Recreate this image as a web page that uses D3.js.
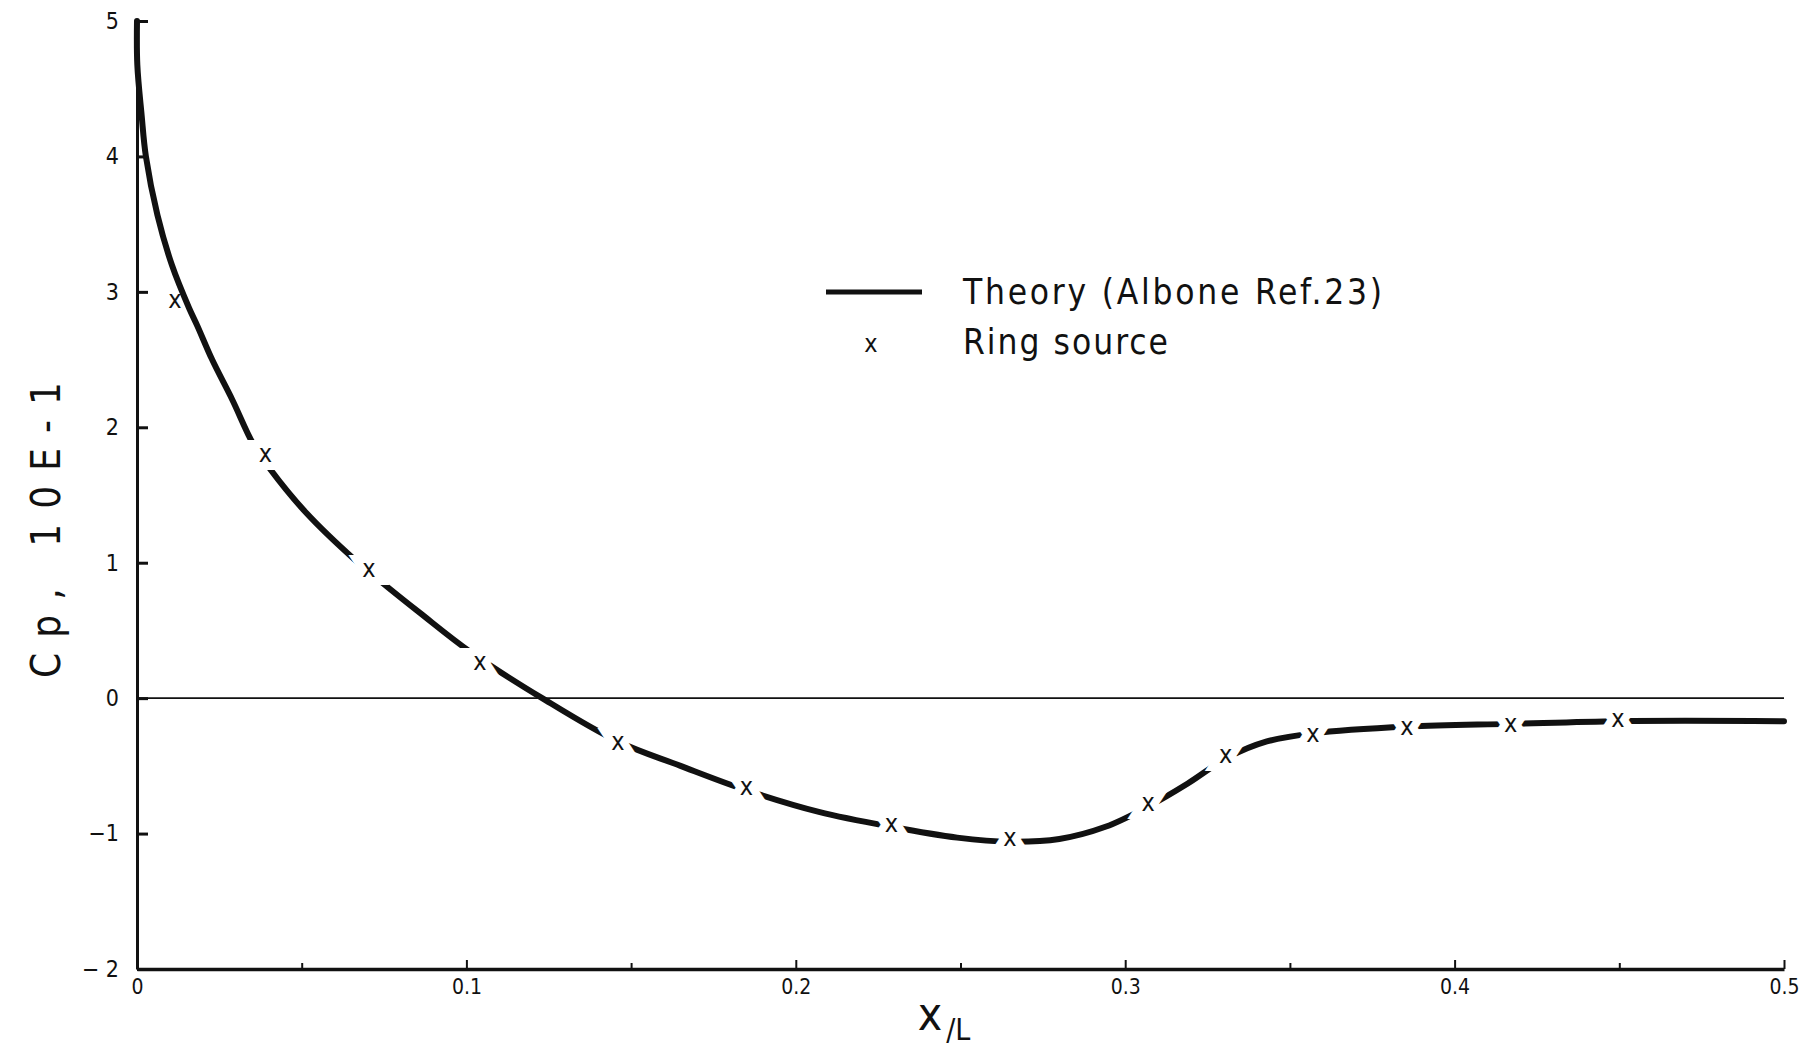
<!DOCTYPE html>
<html>
<head>
<meta charset="utf-8">
<script src="https://cdn.jsdelivr.net/npm/d3@7"></script>
<style>
body { margin:0; background:#fff; }
svg { display:block; }
text { font-family:"DejaVu Sans Condensed","DejaVu Sans",sans-serif; fill:#111; }
</style>
</head>
<body>
<div class="container"></div>
<script>
const wd = 1808
const ht = 1053

// theory curve (Albone), x/L vs Cp (10E-1)
const theoryX = [0, 0.0001, 0.0014, 0.0027, 0.0062, 0.0106, 0.0158, 0.0183, 0.0228, 0.029, 0.0352, 0.0404, 0.0515, 0.0662, 0.0738, 0.0859, 0.1011, 0.123, 0.146, 0.165, 0.185, 0.207, 0.229, 0.249, 0.265, 0.280, 0.294, 0.307, 0.319, 0.331, 0.343, 0.357, 0.386, 0.417, 0.450, 0.5]
const theoryY = [5.0, 4.675, 4.306, 4.0, 3.567, 3.198, 2.881, 2.75, 2.5, 2.2, 1.88, 1.692, 1.365, 1.02, 0.865, 0.629, 0.343, 0.0, -0.32, -0.50, -0.68, -0.84, -0.95, -1.03, -1.06, -1.04, -0.95, -0.80, -0.63, -0.44, -0.32, -0.26, -0.21, -0.19, -0.17, -0.17]

// ring source points
const ringX = [0.0115, 0.039, 0.0704, 0.1041, 0.146, 0.185, 0.229, 0.265, 0.307, 0.3305, 0.357, 0.3855, 0.417, 0.4496]
const ringY = [2.93, 1.795, 0.946, 0.26, -0.33, -0.66, -0.94, -1.04, -0.78, -0.43, -0.27, -0.22, -0.20, -0.16]

const xTicks = [0, 0.1, 0.2, 0.3, 0.4, 0.5]
const xTickLabels = ["0", "0.1", "0.2", "0.3", "0.4", "0.5"]
const xMinorTicks = [0.05, 0.15, 0.25, 0.35, 0.45]
const yTicks = [-2, -1, 0, 1, 2, 3, 4, 5]
const yTickLabels = ["\u2212 2", "\u22121", "0", "1", "2", "3", "4", "5"]

const svgC = d3.select(".container")
.append("svg")
.attr("width", wd)
.attr("height", ht)

const xScale = d3.scaleLinear().domain([0, 0.5]).range([137, 1784])
const yScale = d3.scaleLinear().domain([-2, 5]).range([969, 21])

// zero line
svgC.append("line")
.attr("x1", xScale(0)).attr("x2", xScale(0.5))
.attr("y1", yScale(0)).attr("y2", yScale(0))
.style("stroke", "#111").style("stroke-width", 1.6)

// theory curve
const pts = theoryX.map((x, i) => ({x: x, y: theoryY[i]}))
const lineFunc = d3.line()
.x((d)=> xScale(d.x))
.y((d)=> yScale(d.y))
.curve(d3.curveCatmullRom.alpha(0.5))

svgC.append("path")
.attr("d", lineFunc(pts))
.attr("fill", "none")
.style("stroke", "#111")
.style("stroke-width", 6)
.style("stroke-linecap", "round")

// ring source markers, white halo breaks the curve (first one sits beside it)
svgC.append("g").selectAll("text")
.data(ringX.map((x, i) => ({x: x, y: ringY[i], i: i})))
.join("text")
.attr("x", d => xScale(d.x))
.attr("y", d => yScale(d.y) + 7)
.attr("text-anchor", "middle")
.style("font-size", "25px")
.style("stroke", "#fff")
.style("stroke-width", d => d.i == 0 ? 0 : 16)
.style("paint-order", "stroke")
.text("x")

// y axis
const yAxis = d3.axisLeft(yScale)
.tickValues(yTicks)
.tickFormat((d, i) => yTickLabels[i])
.tickSizeInner(-11)
.tickSizeOuter(0)
.tickPadding(18)

const yG = svgC.append("g")
.attr("transform", "translate(" + xScale(0) + ",0)")
.call(yAxis)
yG.select(".domain").style("stroke-width", 3).style("stroke", "#111")
yG.selectAll(".tick line").style("stroke-width", 3).style("stroke", "#111")
yG.selectAll(".tick text").style("font-size", "23px").style("font-family", "DejaVu Sans Condensed, DejaVu Sans").attr("fill", "#111")

// x axis
const xAxis = d3.axisBottom(xScale)
.tickValues(xTicks)
.tickFormat((d, i) => xTickLabels[i])
.tickSizeInner(-9)
.tickSizeOuter(0)
.tickPadding(10)

const xG = svgC.append("g")
.attr("transform", "translate(0," + yScale(-2) + ")")
.call(xAxis)
xG.select(".domain").style("stroke-width", 3.5).style("stroke", "#111")
xG.selectAll(".tick line").style("stroke-width", 2).style("stroke", "#111")
xG.selectAll(".tick text").style("font-size", "21px").style("font-family", "DejaVu Sans Condensed, DejaVu Sans").attr("fill", "#111")

const xMinor = d3.axisBottom(xScale)
.tickValues(xMinorTicks)
.tickFormat("")
.tickSizeInner(-6)
.tickSizeOuter(0)
svgC.append("g")
.attr("transform", "translate(0," + yScale(-2) + ")")
.call(xMinor)
.call(g => g.select(".domain").remove())
.selectAll(".tick line").style("stroke-width", 2).style("stroke", "#111")

// axis titles
svgC.append("text")
.attr("transform", "translate(60,530) rotate(-90)")
.attr("text-anchor", "middle")
.attr("textLength", 296)
.attr("lengthAdjust", "spacing")
.style("font-size", "40px")
.text("Cp, 10E-1")

const xl = svgC.append("text")
.attr("x", 944)
.attr("y", 1030)
.attr("text-anchor", "middle")
xl.append("tspan").style("font-size", "46px").text("x")
xl.append("tspan").style("font-size", "30px").attr("dx", 4).attr("dy", 10).text("/L")

// legend
svgC.append("line")
.attr("x1", 826).attr("x2", 922)
.attr("y1", 292).attr("y2", 292)
.style("stroke", "#111").style("stroke-width", 5)

svgC.append("text")
.attr("x", 963).attr("y", 304)
.attr("textLength", 419)
.attr("lengthAdjust", "spacing")
.style("font-size", "35px")
.text("Theory (Albone  Ref.23)")

svgC.append("text")
.attr("x", 871).attr("y", 352)
.attr("text-anchor", "middle")
.style("font-size", "25px")
.text("x")

svgC.append("text")
.attr("x", 963).attr("y", 354)
.attr("textLength", 205)
.attr("lengthAdjust", "spacing")
.style("font-size", "35px")
.text("Ring source")
</script>
</body>
</html>
